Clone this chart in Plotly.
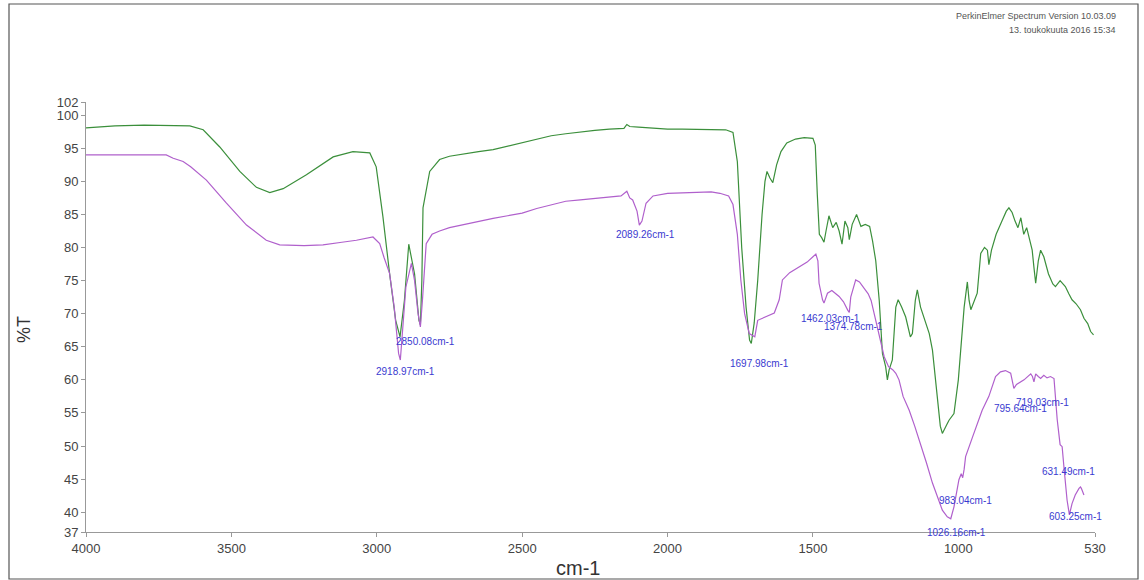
import plotly.graph_objects as go

# ---------------- data ----------------
green_wn = [4000, 3900, 3800, 3700, 3643, 3597, 3540, 3471, 3414, 3368, 3322, 3242, 3150, 3082, 3024,
            3002, 2979, 2956, 2935, 2920, 2905, 2890, 2870, 2855, 2850, 2845, 2841, 2818, 2784, 2750,
            2700, 2650, 2600, 2550, 2500, 2450, 2400, 2350, 2300, 2250, 2200, 2150, 2140, 2130, 2100,
            2050, 2000, 1950, 1900, 1850, 1800, 1775, 1760, 1745, 1730, 1718, 1712, 1702, 1690, 1675,
            1665, 1658, 1648, 1638, 1625, 1610, 1590, 1560, 1530, 1500, 1492, 1485, 1478, 1470, 1462,
            1455, 1445, 1432, 1420, 1410, 1400, 1390, 1380, 1375, 1365, 1350, 1335, 1320, 1305, 1295,
            1284, 1272, 1261, 1250, 1244, 1238, 1227, 1215, 1207, 1195, 1181, 1165, 1158, 1148, 1141,
            1130, 1118, 1100, 1089, 1075, 1062, 1055, 1048, 1040, 1032, 1015, 1000, 992, 980, 969,
            963, 957, 950, 935, 923, 910, 900, 895, 886, 870, 850, 835, 826, 815, 805,
            795, 785, 775, 765, 755, 746, 740, 734, 725, 717, 706, 690, 675, 666, 650,
            640, 632, 620, 609, 595, 580, 568, 555, 545, 535]
green_t = [98.1, 98.4, 98.5, 98.5, 98.4, 97.8, 95.2, 91.5, 89.1, 88.3, 88.9, 91.0, 93.7, 94.5, 94.3,
           92.2, 84.7, 76.1, 69.0, 66.5, 72.0, 80.5, 76.0, 69.0, 68.3, 75.0, 86.0, 91.5, 93.3, 93.8,
           94.2, 94.5, 94.8, 95.3, 95.8, 96.4, 96.9, 97.2, 97.5, 97.7, 97.9, 98.0, 98.6, 98.3, 98.2,
           98.0, 97.9, 97.9, 97.9, 97.8, 97.8, 97.4, 93.0, 80.0, 71.0, 66.0, 65.5, 68.6, 75.0, 85.0,
           90.0, 91.5, 90.5, 89.8, 92.5, 94.5, 95.8, 96.4, 96.6, 96.5, 95.5, 88.0, 82.0, 81.5, 80.8,
           82.5, 84.8, 83.0, 83.8, 82.5, 80.5, 84.0, 83.0, 81.2, 83.5, 85.0, 83.2, 83.5, 83.2, 81.0,
           78.0, 72.0, 64.0, 62.0, 60.0, 61.5, 63.0, 71.0, 72.1, 71.0, 69.5, 66.5, 67.0, 72.0, 73.6,
           71.0, 69.5, 67.0, 64.5, 58.0, 53.0, 51.9, 52.6, 53.2, 53.9, 54.9, 60.0, 64.5, 71.0, 74.8,
           72.0, 70.6, 71.5, 73.1, 79.1, 80.0, 79.6, 77.4, 79.6, 82.0, 84.0, 85.5, 86.0, 85.3, 84.0,
           83.0, 84.5, 82.0, 83.0, 81.0, 79.6, 77.0, 74.6, 78.0, 79.6, 78.6, 76.0, 74.5, 74.1, 75.0,
           74.5, 74.1, 73.0, 72.1, 71.5, 70.6, 69.3, 68.5, 67.3, 66.8]

purple_wn = [4000, 3800, 3724, 3700, 3680, 3666, 3640, 3586, 3517, 3448, 3380, 3334, 3250, 3185, 3120,
             3070, 3013, 2990, 2975, 2956, 2940, 2925, 2919, 2912, 2900, 2881, 2870, 2858, 2850, 2843,
             2830, 2810, 2784, 2750, 2700, 2650, 2600, 2550, 2500, 2450, 2400, 2350, 2300, 2250, 2200,
             2160, 2140, 2130, 2120, 2105, 2097, 2088, 2074, 2050, 2000, 1950, 1900, 1850, 1820, 1790,
             1775, 1760, 1748, 1735, 1719, 1700, 1690, 1662, 1633, 1616, 1605, 1580, 1550, 1520, 1500,
             1490, 1483, 1479, 1467, 1462, 1450, 1435, 1410, 1395, 1380, 1375, 1370, 1353, 1340, 1330,
             1310, 1300, 1285, 1270, 1255, 1240, 1225, 1215, 1204, 1190, 1169, 1150, 1135, 1110, 1089,
             1070, 1055, 1038, 1026, 1015, 1005, 998, 990, 985, 980, 975, 950, 929, 918, 895,
             872, 855, 838, 820, 809, 800, 792, 774, 751, 745, 740, 734, 725, 717, 706,
             695, 683, 671, 660, 650, 643, 640, 637, 626, 618, 609, 598, 585, 580, 577, 568]
purple_t = [94.0, 94.0, 94.0, 93.5, 93.2, 93.0, 92.2, 90.2, 86.7, 83.4, 81.1, 80.4, 80.3, 80.4, 80.8,
            81.1, 81.6, 80.6, 78.5, 76.1, 71.0, 64.0, 63.0, 67.0, 74.0, 77.6, 75.0, 70.0, 68.0, 72.0,
            80.6, 82.0, 82.5, 83.0, 83.5, 84.0, 84.4, 84.8, 85.2, 85.9, 86.5, 87.0, 87.2, 87.4, 87.6,
            87.8, 88.5, 87.5, 87.2, 85.5, 83.4, 84.0, 86.7, 87.8, 88.2, 88.3, 88.4, 88.4, 88.2, 87.8,
            86.5, 82.0, 75.1, 70.0, 67.0, 66.5, 69.0, 69.5, 70.1, 72.1, 75.1, 76.2, 77.0, 77.8, 78.6,
            79.0, 78.0, 74.6, 72.1, 71.6, 73.1, 73.5, 72.6, 71.8, 70.5, 70.2, 72.5, 75.1, 74.8, 74.2,
            73.0, 72.0, 69.0, 66.0, 63.5, 62.0, 61.5, 61.0, 60.0, 57.5, 55.4, 53.0, 51.0, 47.5, 44.4,
            42.0, 40.3, 39.3, 39.0, 40.8, 43.0, 44.9, 45.8, 45.2, 46.5, 48.4, 51.5, 53.9, 55.4, 57.5,
            60.5, 61.2, 61.4, 61.0, 58.7, 59.3, 59.5, 60.0, 60.9, 60.5, 59.7, 60.9, 60.5, 60.2, 60.7,
            60.3, 60.5, 60.2, 54.0, 50.2, 49.9, 48.7, 46.9, 41.8, 39.6, 41.3, 42.6, 43.6, 43.8, 43.6, 42.6]

peak_labels = ["2850.08cm-1", "2918.97cm-1", "2089.26cm-1", "1697.98cm-1", "1462.03cm-1",
               "1374.78cm-1", "719.03cm-1", "795.64cm-1", "983.04cm-1", "1026.16cm-1",
               "631.49cm-1", "603.25cm-1"]
label_wn = [2832, 2901, 2076, 1685, 1441, 1362, 709, 785, 974, 1008, 620, 596]
label_t = [65.8, 61.2, 82.0, 62.5, 69.2, 68.0, 56.6, 55.6, 41.7, 37.0, 46.2, 39.3]

x_ticks = [4000, 3500, 3000, 2500, 2000, 1500, 1000, 530]
y_ticks = [37, 40, 45, 50, 55, 60, 65, 70, 75, 80, 85, 90, 95, 100, 102]

header_lines = ["PerkinElmer Spectrum Version 10.03.09", "13. toukokuuta 2016 15:34"]

# ---------------- layout constants ----------------
W, H = 1144, 580
L, R, T, B = 86, 49, 102, 48
PW, PH = W - L - R, H - T - B


def px(x):
    return (x - L) / PW


def py(y):
    return 1 - (y - T) / PH


FONT = "Liberation Sans, Arial, sans-serif"

fig = go.Figure()
fig.add_trace(go.Scatter(x=green_wn, y=green_t, mode="lines",
                         line=dict(color="#3b8f3b", width=1.2), showlegend=False))
fig.add_trace(go.Scatter(x=purple_wn, y=purple_t, mode="lines",
                         line=dict(color="#b060cc", width=1.2), showlegend=False))

annotations = []
for txt, xw, yt in zip(peak_labels, label_wn, label_t):
    annotations.append(dict(x=xw, y=yt, xref="x", yref="y", text=txt, showarrow=False,
                            font=dict(family=FONT, size=10, color="#3a3ad0"),
                            xanchor="center", yanchor="middle"))

annotations.append(dict(x=px(1118), y=py(16), xref="paper", yref="paper", text=header_lines[0],
                        showarrow=False, xanchor="right", yanchor="middle",
                        font=dict(family=FONT, size=9, color="#555")))
annotations.append(dict(x=px(1118), y=py(30), xref="paper", yref="paper", text=header_lines[1],
                        showarrow=False, xanchor="right", yanchor="middle",
                        font=dict(family=FONT, size=9, color="#555")))
annotations.append(dict(x=px(578), y=py(568), xref="paper", yref="paper", text="cm-1",
                        showarrow=False, xanchor="center", yanchor="middle",
                        font=dict(family=FONT, size=20, color="#333")))
annotations.append(dict(x=px(24), y=py(330), xref="paper", yref="paper", text="%T",
                        showarrow=False, xanchor="center", yanchor="middle", textangle=-90,
                        font=dict(family=FONT, size=18, color="#333")))

shapes = [dict(type="rect", xref="paper", yref="paper",
               x0=px(9), x1=px(1138), y0=py(4), y1=py(579),
               line=dict(color="#555", width=1.2), fillcolor="rgba(0,0,0,0)", layer="below")]

fig.update_layout(
    width=W, height=H,
    margin=dict(l=L, r=R, t=T, b=B, pad=0),
    paper_bgcolor="white", plot_bgcolor="white",
    font=dict(family=FONT, size=13, color="#444"),
    annotations=annotations, shapes=shapes,
    xaxis=dict(range=[4000, 530], tickvals=x_ticks, ticktext=[str(v) for v in x_ticks],
               showgrid=False, zeroline=False, showline=True, linecolor="#999", linewidth=1,
               ticks="outside", ticklen=4, tickcolor="#999", tickfont=dict(size=13, color="#444")),
    yaxis=dict(range=[37, 102], tickvals=y_ticks, ticktext=[str(v) for v in y_ticks],
               showgrid=False, zeroline=False, showline=True, linecolor="#999", linewidth=1,
               ticks="outside", ticklen=4, tickcolor="#999", tickfont=dict(size=13, color="#444")),
)

fig.write_html("out.html")
